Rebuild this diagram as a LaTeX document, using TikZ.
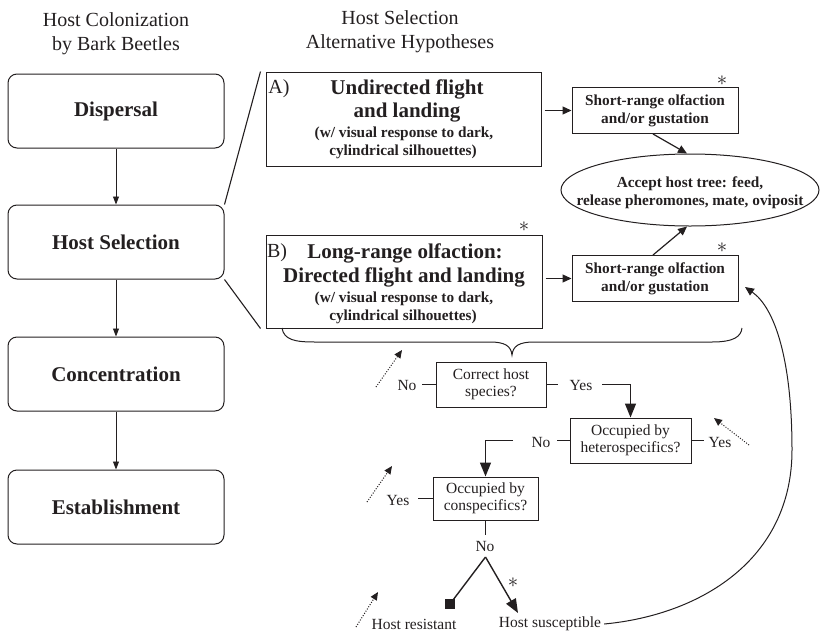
\documentclass[tikz,border=0pt]{standalone}
\usepackage{fontspec}
\setmainfont{Liberation Serif}
\usetikzlibrary{arrows.meta,shapes.geometric,calc}
\definecolor{ink}{HTML}{231F20}
\newcommand\fBig{\fontsize{21}{24}\selectfont\bfseries}
\newcommand\fSm{\fontsize{15.3}{18}\selectfont\bfseries}
\newcommand\fReg{\fontsize{15.5}{16.5}\selectfont}
\newcommand\fTtl{\fontsize{20}{24}\selectfont}
\begin{document}
\begin{tikzpicture}[x=1pt,y=-1pt,
  every node/.style={text=ink},
  lbox/.style={draw=ink, line width=1pt, rounded corners=9pt, minimum width=216pt, minimum height=74pt, inner sep=0pt, font=\fBig},
  rbox/.style={draw=ink, line width=1pt, inner sep=0pt},
  sbox/.style={rbox, minimum width=166pt, minimum height=46pt, align=center, font=\fSm},
  dbox/.style={draw=ink, line width=1pt, inner sep=0pt, align=center, font=\fReg},
  big/.style={font=\fBig, inner sep=0pt},
  small/.style={font=\fSm, inner sep=0pt},
  lab/.style={font=\fReg, inner sep=0pt},
  star/.style={font=\fontsize{20}{20}\selectfont, inner sep=0pt},
  ttl/.style={font=\fTtl, align=center, inner sep=0pt},
  ln/.style={draw=ink, line width=1.1pt},
  sarr/.style={draw=ink, line width=0.9pt, -{Triangle[width=6pt,length=8pt]}},
  marr/.style={draw=ink, line width=1.2pt, -{Triangle[width=8pt,length=9pt]}},
  barr/.style={draw=ink, line width=1.4pt, -{Triangle[width=11pt,length=14pt]}},
  darr/.style={draw=ink, line width=1pt, dash pattern=on 1pt off 1.6pt, -{Triangle[width=7pt,length=8pt]}}
]
\useasboundingbox (0,0) rectangle (822,635);

% titles
\node[ttl] (t1) at (116,34) {Host Colonization\\by Bark Beetles};
\node[ttl] (t2) at (400,32) {Host Selection\\Alternative Hypotheses};

% left column
\node[lbox] (dis) at (116,111) {Dispersal};
\node[lbox] (hs) at (116,242) {Host Selection};
\node[lbox] (conc) at (116,374) {Concentration};
\node[lbox] (est) at (116,507) {Establishment};
\draw[sarr] (dis.south) -- (hs.north);
\draw[sarr] (hs.south) -- (conc.north);
\draw[sarr] (conc.south) -- (est.north);

% box A
\node[rbox, minimum width=275pt, minimum height=94pt] (A) at (403.5,119) {};
\node[ttl, font=\fTtl] (al) at (279,89) {A)};
\node[big] (a1) at (407,89) {Undirected flight};
\node[big] (a2) at (407,113) {and landing};
\node[small] (a3) at (404,134) {(w/ visual response to dark,};
\node[small] (a4) at (403,152) {cylindrical silhouettes)};

% box B
\node[rbox, minimum width=276pt, minimum height=93pt] (B) at (404,281.5) {};
\node[ttl, font=\fTtl] (bl) at (277,253) {B)};
\node[big] (b1) at (405,253) {Long-range olfaction:};
\node[big] (b2) at (404,277) {Directed flight and landing};
\node[small] (b3) at (404,299) {(w/ visual response to dark,};
\node[small] (b4) at (403,317) {cylindrical silhouettes)};
\node[star] (sb) at (524,227) {$\ast$};

% zoom lines
\draw[ln] (hs.north east) -- ([xshift=-5pt]A.north west);
\draw[ln] (hs.south east) -- ([xshift=-5pt]B.south west);

% short-range boxes
\node[sbox] (us) at (655,110.5) {Short-range olfaction\\and/or gustation};
\node[sbox] (ls) at (655,278.5) {Short-range olfaction\\and/or gustation};
\node[star] (su) at (722,81) {$\ast$};
\node[star] (sl) at (722,248) {$\ast$};
\draw[marr, shorten <=3pt] (A.east |- us.west) -- (us.west);
\draw[marr, shorten <=3pt] (B.east |- ls.west) -- (ls.west);

% ellipse
\node[draw=ink, line width=1pt, ellipse, minimum width=258pt, minimum height=72pt, inner sep=0pt] (el) at (690,190) {};
\node[small, align=center] (elt) at (690,193) {Accept host tree: feed,\\release pheromones, mate, oviposit};
\draw[marr] ([xshift=-2pt]us.south) -- ([xshift=-3pt]el.north);
\draw[marr] ([xshift=-2pt]ls.north) -- ([xshift=-3pt]el.south);

% brace
\draw[ln, line width=1pt] (282,328) .. controls (284,340) and (295,342) .. (315,342) -- (490,342)
  .. controls (505,342) and (511,346) .. (512,355)
  .. controls (513,346) and (519,342) .. (534,342) -- (712,342)
  .. controls (735,342) and (741,336) .. (742,328);

% decision boxes
\node[dbox, minimum width=110pt, minimum height=45pt] (ch) at (491,384.5) {Correct host\\species?};
\node[dbox, minimum width=121pt, minimum height=45pt] (het) at (630.5,440.5) {Occupied by\\heterospecifics?};
\node[dbox, minimum width=105pt, minimum height=43pt] (cs) at (485.5,498.5) {Occupied by\\conspecifics?};

% labels
\node[lab] (n1) at (407,385) {No};
\node[lab] (y1) at (581,385) {Yes};
\node[lab] (n2) at (541,442) {No};
\node[lab] (y2) at (720,442) {Yes};
\node[lab] (y3) at (398,500) {Yes};
\node[lab] (n3) at (485,546) {No};
\node[lab] (hr) at (414,624) {Host resistant};
\node[lab] (hsu) at (550,624) {Host susceptible};
\node[star] (sn) at (513,583) {$\ast$};

% coordinates
\coordinate (c1) at (422,384.5);
\coordinate (c2) at (558,384.5);
\coordinate (c3) at (602,384.5);
\coordinate (c4) at (557,440.5);
\coordinate (c5) at (513,440.5);
\coordinate (c6) at (704,440.5);
\coordinate (c7) at (418,498.5);
\coordinate (c8) at (485.5,535);
\coordinate (split) at (485.5,557);
\coordinate (tipS) at (518,613);
\coordinate (d1s) at (376,387); \coordinate (d1e) at (402,350);
\coordinate (d2s) at (749,445); \coordinate (d2e) at (714,418);
\coordinate (d3s) at (367,502); \coordinate (d3e) at (392,466);
\coordinate (d4s) at (356,627); \coordinate (d4e) at (378,592);
\coordinate (lsin) at (745,287);

\draw[ln] (ch.west) -- (c1);
\draw[ln] (ch.east) -- (c2);
\draw[barr] (c3) -| (het.north);
\draw[ln] (het.west) -- (c4);
\draw[barr] (c5) -| (cs.north);
\draw[ln] (het.east) -- (c6);
\draw[ln] (cs.west) -- (c7);
\draw[ln] (cs.south) -- (c8);

\node[fill=ink, minimum size=10pt, inner sep=0pt] (sq) at (450,604) {};
\draw[ln, line width=1.4pt] (split) -- (sq.center);
\draw[barr] (split) -- (tipS);

\draw[darr] (d1s) -- (d1e);
\draw[darr] (d2s) -- (d2e);
\draw[darr] (d3s) -- (d3e);
\draw[darr] (d4s) -- (d4e);

\draw[marr, line width=1pt] ([xshift=3pt]hsu.east) .. controls (700,615) and (792,560) .. (792,450)
  .. controls (792,360) and (775,308) .. (lsin);
\end{tikzpicture}
\end{document}
